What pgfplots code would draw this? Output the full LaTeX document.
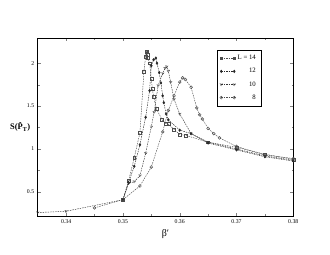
\documentclass[border=0pt]{standalone}
\usepackage{pgfplots}
\pgfplotsset{compat=1.18}
\usepackage{fontspec}
\setmainfont{Liberation Serif}
\begin{document}
\begin{tikzpicture}[x=1bp,y=1bp]
\useasboundingbox (0,0) rectangle (330,255);
\begin{axis}[
  at={(37.7bp,39bp)}, anchor=south west, scale only axis,
  width=255.6bp, height=177.7bp,
  xmin=0.335, xmax=0.38, ymin=0.22, ymax=2.29,
  xtick={0.34,0.35,0.36,0.37,0.38},
  ytick={0.5,1,1.5,2},
  minor x tick num=1, minor y tick num=1,
  tick align=inside,
  major tick length=3bp, minor tick length=1.8bp,
  xticklabel style={/pgf/number format/fixed,/pgf/number format/precision=2},
  yticklabel style={/pgf/number format/fixed},
  /pgf/number format/assume math mode=true,
  tick label style={font=\fontsize{5.8}{6}\selectfont},
  xlabel={β′}, ylabel={\textbf{S(\^{P}\textsubscript{T})}},
  xlabel style={font=\fontsize{10}{11}\selectfont, yshift=1bp},
  every axis y label/.style={at={(rel axis cs:0,0.5)}, anchor=east, xshift=-4bp, font=\fontsize{8.5}{9}\selectfont},
  axis line style={line width=0.6pt},
  legend style={at={(0.70,0.934)}, anchor=north west, draw=black, line width=0.4pt,
    font=\fontsize{6.8}{7}\selectfont, row sep=3.2bp, inner xsep=3bp, inner ysep=3bp},
  legend cell align=right,
  legend image code/.code={\draw[#1] plot coordinates {(0bp,0bp) (13bp,0bp)};},
  every axis plot/.append style={line width=0.45pt, dash pattern=on 1.5pt off 1pt, mark size=1.45pt, mark options={solid, line width=0.45pt}},
]
\addplot[black!70, mark=square] coordinates {
(0.35,0.41) (0.351,0.63) (0.352,0.9) (0.353,1.19) (0.3537,1.9) (0.354,2.08) (0.3541,2.13) (0.3542,2.14) (0.3543,2.1) (0.3544,2.06)
(0.3547,2.0) (0.355,1.82) (0.3552,1.70) (0.3554,1.61) (0.3559,1.47) (0.3569,1.34) (0.3575,1.30) (0.358,1.29) (0.359,1.23)
(0.36,1.17) (0.361,1.16) (0.365,1.08) (0.37,1.02) (0.375,0.94) (0.38,0.88)};
\addlegendentry{L = 14}
\addplot[black!85, mark=diamond*, mark size=1.3pt] coordinates {
(0.35,0.41) (0.351,0.61) (0.352,0.8) (0.353,1.05) (0.354,1.37) (0.3547,1.68) (0.355,1.97) (0.3554,2.04) (0.3558,2.06) (0.356,2.0)
(0.3564,1.89) (0.3567,1.77) (0.357,1.62) (0.3572,1.54) (0.3576,1.41) (0.358,1.34) (0.36,1.22) (0.362,1.18)
(0.365,1.07) (0.37,0.99) (0.375,0.91) (0.38,0.86)};
\addlegendentry{12}
\addplot[black!80, mark=triangle, mark options={rotate=180}] coordinates {
(0.335,0.26) (0.34,0.275) (0.35,0.41) (0.351,0.6) (0.352,0.62) (0.353,0.69) (0.354,0.95) (0.355,1.26) (0.3555,1.43) (0.3562,1.74)
(0.357,1.88) (0.3574,1.94) (0.3577,1.96) (0.358,1.91) (0.3584,1.78) (0.359,1.58) (0.36,1.41) (0.362,1.18)
(0.365,1.08) (0.37,1.0) (0.375,0.92) (0.38,0.87)};
\addlegendentry{10}
\addplot[black!70, mark=o] coordinates {
(0.345,0.315) (0.35,0.41) (0.353,0.57) (0.355,0.79) (0.357,1.2) (0.358,1.45) (0.359,1.62) (0.36,1.78) (0.3605,1.83) (0.361,1.81) (0.362,1.72)
(0.363,1.48) (0.3635,1.40) (0.364,1.35) (0.365,1.24) (0.366,1.18) (0.367,1.13) (0.37,1.03) (0.375,0.93) (0.38,0.89)};
\addlegendentry{8}
\end{axis}
\end{tikzpicture}
\end{document}
